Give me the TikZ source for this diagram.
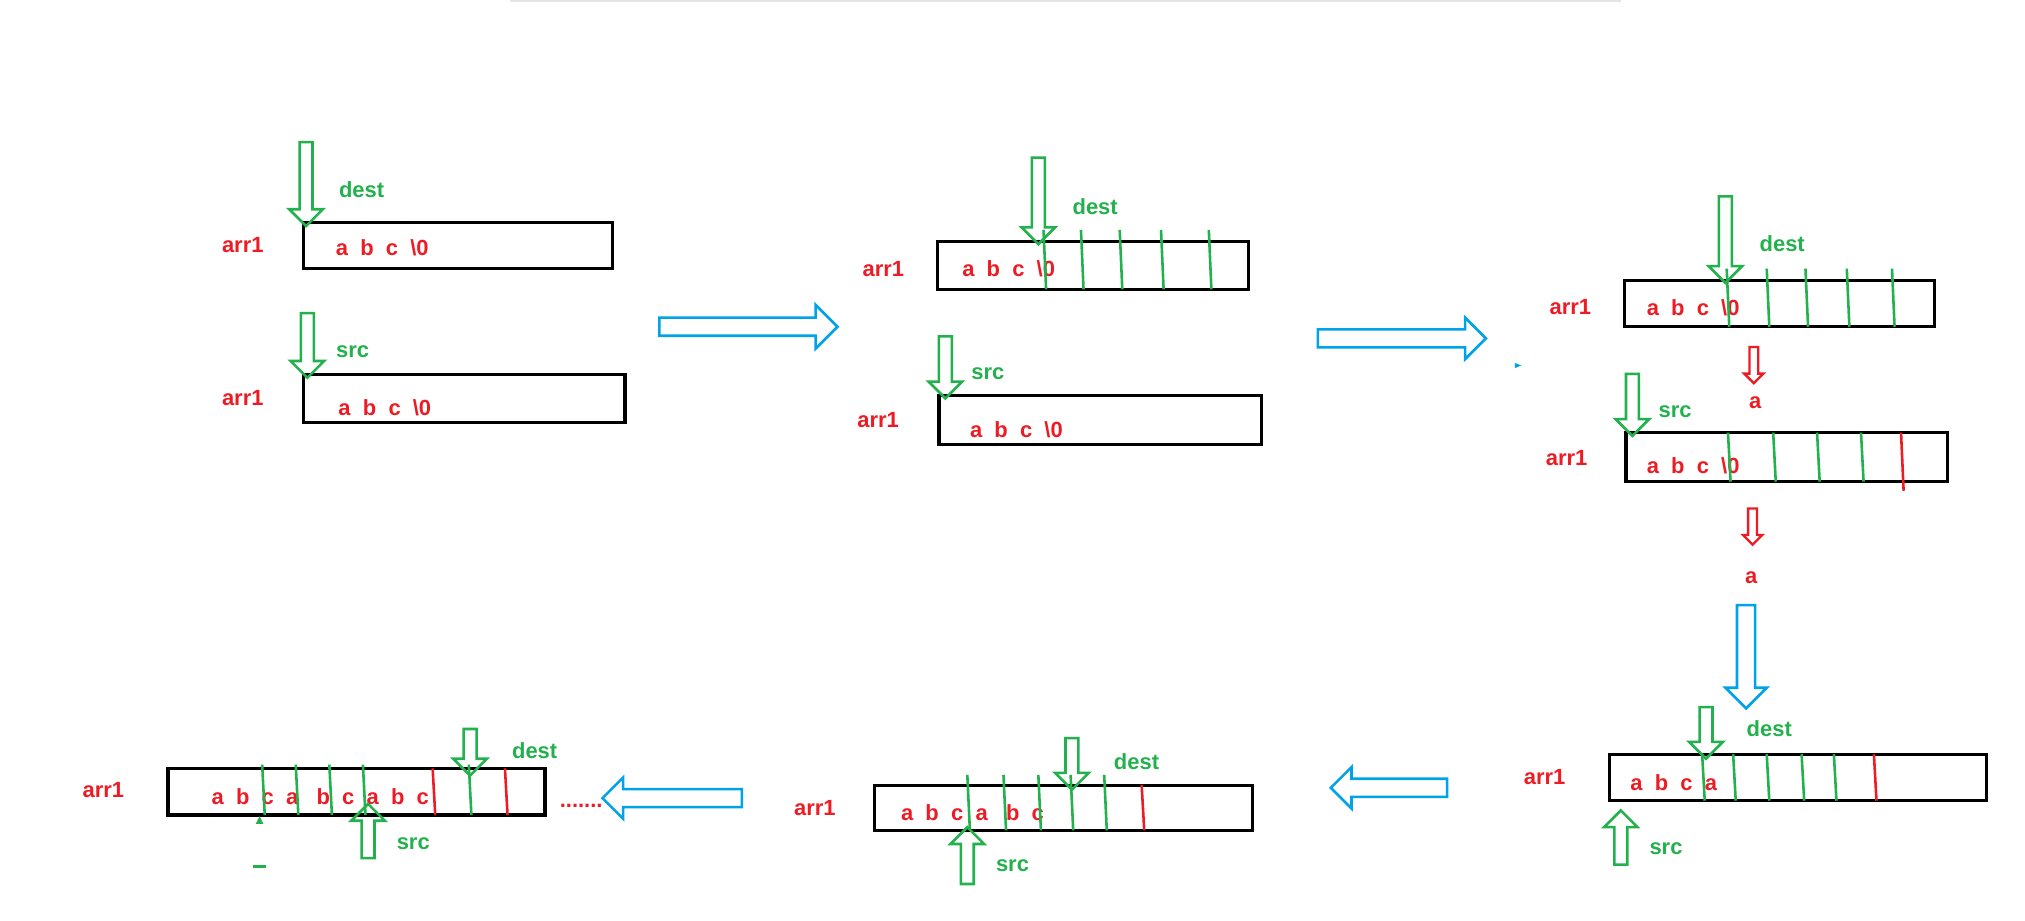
\documentclass[tikz,border=0pt]{standalone}
\usepackage{fontspec}
\setmainfont{Liberation Sans}
\usetikzlibrary{shapes.arrows}
\definecolor{myred}{RGB}{237,28,36}
\definecolor{mygreen}{RGB}{34,177,76}
\definecolor{myblue}{RGB}{0,162,232}
\begin{document}
\begin{tikzpicture}[x=1pt,y=-1pt]
    \tikzstyle{cell} = [draw=black, line width=2.5pt]
    \tikzstyle{lbl} = [font=\fontsize{17}{20}\selectfont\bfseries, inner sep=0pt]
    \tikzstyle{rtxt} = [lbl, text=myred]
    \tikzstyle{gtxt} = [lbl, text=mygreen]
    \tikzstyle{ptr} = [single arrow, draw=mygreen, line width=2pt, inner sep=4pt,
        single arrow head extend=8pt, single arrow head indent=0pt]
    \tikzstyle{bigarr} = [single arrow, draw=myblue, line width=2pt, inner sep=6pt,
        single arrow head extend=9pt, single arrow head indent=0pt]
    \tikzstyle{redarr} = [single arrow, draw=myred, line width=1.8pt, inner sep=2.5pt,
        single arrow head extend=4pt, single arrow head indent=0pt, minimum height=28pt]
    \tikzstyle{gtick} = [mygreen, line width=2pt]
    \tikzstyle{rtick} = [myred, line width=2pt]

    \useasboundingbox (0,0) rectangle (1568,713);
    \draw[gray!20, line width=3pt] (395,0) -- (1255,0);

    % Panel 1
    \draw[cell] (235,172) rectangle (474,208);
    \draw[cell] (235,290) rectangle (484,327);
    \node[rtxt] (t1) at (296,192) {a\ \ b\ \ c\ \ \textbackslash0};
    \node[rtxt] (t2) at (298,316) {a\ \ b\ \ c\ \ \textbackslash0};
    \node[rtxt] (a1) at (188,190) {arr1};
    \node[rtxt] (a2) at (188,308) {arr1};
    \node[ptr, shape border rotate=270, minimum height=65pt] (d1) at (237,140) {};
    \node[gtxt] (dl1) at (280,147) {dest};
    \node[ptr, shape border rotate=270, minimum height=50pt] (s1) at (238,265) {};
    \node[gtxt] (sl1) at (273,272) {src};

    \node[bigarr, minimum height=138pt, single arrow head extend=10pt] (b1) at (576,253) {};

    % Panel 2
    \draw[cell] (726,187) rectangle (967,224);
    \draw[cell] (727,306) rectangle (977,344);
    \node[rtxt] (t3) at (781,208) {a\ \ b\ \ c\ \ \textbackslash0};
    \node[rtxt] (t4) at (787,333) {a\ \ b\ \ c\ \ \textbackslash0};
    \foreach \x in {808,837,867,899,936} \draw[gtick] (\x,178) -- (\x+2,224);
    \node[rtxt] (a3) at (684,208) {arr1};
    \node[rtxt] (a4) at (680,325) {arr1};
    \node[ptr, shape border rotate=270, minimum height=67pt] (d2) at (804,153) {};
    \node[gtxt] (dl2) at (848,160) {dest};
    \node[ptr, shape border rotate=270, minimum height=48pt] (s2) at (732,282) {};
    \node[gtxt] (sl2) at (765,289) {src};

    \node[bigarr, minimum height=130pt] (b2) at (1082,262) {};
    \fill[myblue] (1173,281) -- (1178,283) -- (1173,285) -- cycle;

    % Panel 3
    \draw[cell] (1258,217) rectangle (1498,253);
    \draw[cell] (1259,335) rectangle (1508,373);
    \node[rtxt] (t5) at (1311,238) {a\ \ b\ \ c\ \ \textbackslash0};
    \node[rtxt] (t6) at (1311,361) {a\ \ b\ \ c\ \ \textbackslash0};
    \foreach \x in {1337,1368,1398,1430,1465} \draw[gtick] (\x,208) -- (\x+2,253);
    \foreach \x in {1338,1373,1407,1441} \draw[gtick] (\x,335) -- (\x+2,373);
    \draw[rtick] (1472,335) -- (1474,380);
    \node[rtxt] (a5) at (1216,238) {arr1};
    \node[rtxt] (a6) at (1213,355) {arr1};
    \node[ptr, shape border rotate=270, minimum height=67pt] (d3) at (1336,183) {};
    \node[gtxt] (dl3) at (1380,189) {dest};
    \node[ptr, shape border rotate=270, minimum height=48pt] (s3) at (1264,311) {};
    \node[gtxt] (sl3) at (1297,319) {src};
    \node[redarr, shape border rotate=270] (r1) at (1358,281) {};
    \node[rtxt] (c1) at (1359,312) {a};
    \node[redarr, shape border rotate=270] (r2) at (1357,406) {};
    \node[rtxt] (c2) at (1356,447) {a};
    \node[bigarr, shape border rotate=270, minimum height=80pt] (b3) at (1352,505) {};

    % Panel 4
    \draw[cell] (1246,584) rectangle (1538,620);
    \node[rtxt] (t7) at (1296,606) {a\ \ b\ \ c\ \ a};
    \foreach \x in {1318,1342,1368,1395,1420} \draw[gtick] (\x,584) -- (\x+2,620);
    \draw[rtick] (1451,584) -- (1453,620);
    \node[rtxt] (a7) at (1196,602) {arr1};
    \node[ptr, shape border rotate=270, minimum height=40pt] (d4) at (1321,565) {};
    \node[gtxt] (dl4) at (1370,564) {dest};
    \node[ptr, shape border rotate=90, minimum height=42pt] (s4) at (1255,651) {};
    \node[gtxt] (sl4) at (1290,657) {src};

    \node[bigarr, shape border rotate=180, minimum height=90pt] (b4) at (1079,610) {};

    % Panel 5
    \draw[cell] (677,608) rectangle (970,643);
    \node[rtxt] (t8) at (753,629) {a\ \ b\ \ c\ \ a\ \ \ b\ \ c};
    \foreach \x in {749,777,804,829,855} \draw[gtick] (\x,600) -- (\x+2,643);
    \draw[rtick] (884,608) -- (886,643);
    \node[rtxt] (a8) at (631,626) {arr1};
    \node[ptr, shape border rotate=270, minimum height=40pt] (d5) at (830,589) {};
    \node[gtxt] (dl5) at (880,590) {dest};
    \node[ptr, shape border rotate=90, minimum height=44pt] (s5) at (749,665) {};
    \node[gtxt] (sl5) at (784,670) {src};

    \node[bigarr, shape border rotate=180, minimum height=108pt] (b5) at (524,618) {};

    % Panel 6
    \draw[cell] (130,595) rectangle (422,631);
    \node[rtxt] (t9) at (248,617) {a\ \ b\ \ c\ \ a\ \ \ b\ \ c\ \ a\ \ b\ \ c};
    \foreach \x in {203,229,255,281,363} \draw[gtick] (\x,592) -- (\x+2,631);
    \foreach \x in {335,391} \draw[rtick] (\x,595) -- (\x+2,631);
    \node[rtxt] (a9) at (80,612) {arr1};
    \node[rtxt] (dots) at (450,624) {.......};
    \node[ptr, shape border rotate=270, minimum height=36pt] (d6) at (364,580) {};
    \node[gtxt] (dl6) at (414,581) {dest};
    \node[ptr, shape border rotate=90, minimum height=42pt] (s6) at (285,646) {};
    \node[gtxt] (sl6) at (320,653) {src};
    \fill[mygreen] (198,638) -- (204,638) -- (201,632) -- cycle;
    \draw[mygreen, line width=2pt] (196,671) -- (206,671);
\end{tikzpicture}
\end{document}
